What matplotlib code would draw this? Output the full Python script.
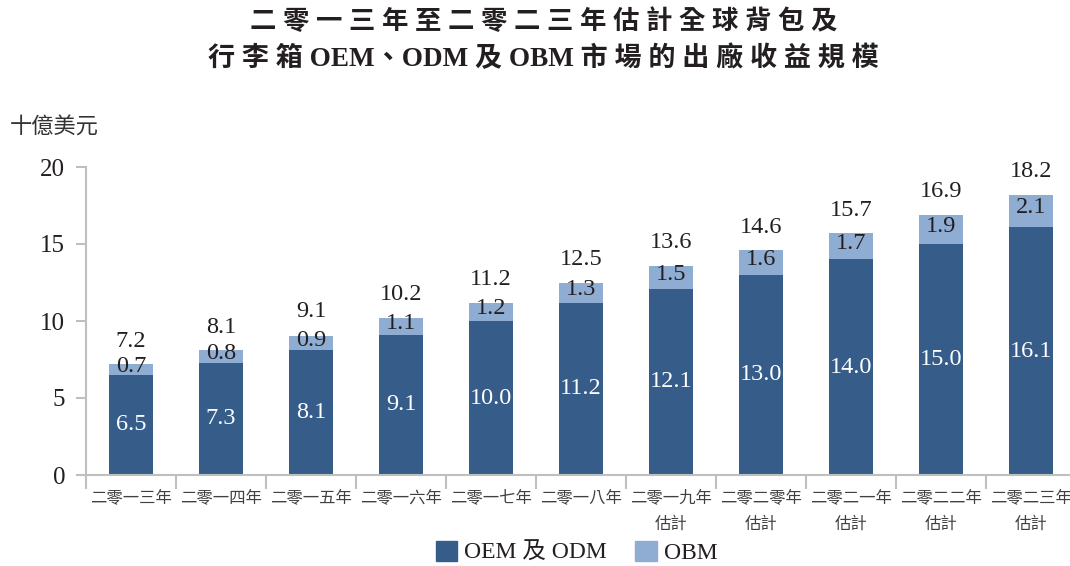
import matplotlib
matplotlib.use("Agg")
import matplotlib.pyplot as plt
from matplotlib.patches import Patch
import numpy as np

plt.rcParams['font.family'] = ['Liberation Serif', 'Noto Sans CJK TC']

years = ["二零一三年", "二零一四年", "二零一五年", "二零一六年", "二零一七年",
         "二零一八年", "二零一九年\n估計", "二零二零年\n估計", "二零二一年\n估計",
         "二零二二年\n估計", "二零二三年\n估計"]
oem_odm = [6.5, 7.3, 8.1, 9.1, 10.0, 11.2, 12.1, 13.0, 14.0, 15.0, 16.1]
obm = [0.7, 0.8, 0.9, 1.1, 1.2, 1.3, 1.5, 1.6, 1.7, 1.9, 2.1]
totals = [7.2, 8.1, 9.1, 10.2, 11.2, 12.5, 13.6, 14.6, 15.7, 16.9, 18.2]

DARK = "#365d8a"
LIGHT = "#8fadd2"
GREY = "#bfbfbf"
TXT = "#231f20"
LBL = 17.5

fig = plt.figure(figsize=(10.7, 5.66), dpi=100)
ax = fig.add_axes([86 / 1070, 91 / 566, 990 / 1070, 308 / 566])

x = np.arange(len(years))
ax.bar(x, oem_odm, width=0.49, color=DARK)
ax.bar(x, obm, width=0.49, bottom=oem_odm, color=LIGHT)

for i in x:
    ax.text(i, oem_odm[i] / 2, f"{oem_odm[i]:.1f}", ha="center", va="center",
            color="white", fontsize=LBL)
    ax.text(i, oem_odm[i] + obm[i] / 2 + 0.2, f"{obm[i]:.1f}", ha="center",
            va="center", color=TXT, fontsize=LBL)
    ax.text(i, totals[i] + 1.5, f"{totals[i]:.1f}", ha="center", va="center",
            color=TXT, fontsize=LBL)

ax.set_xlim(-0.5, 10.5)
ax.set_ylim(0, 20)
ax.set_yticks([0, 5, 10, 15, 20])
ax.set_xticks(x)
ax.set_xticklabels(years, fontsize=11.8, color="#404040", linespacing=1.9)
ax.set_xticks(np.arange(-0.5, 11, 1), minor=True)
ax.tick_params(axis="x", which="major", length=0, pad=11)
ax.tick_params(axis="x", which="minor", length=10, width=1.5, color=GREY)
ax.tick_params(axis="y", length=7, width=1.5, color=GREY, labelsize=18,
               labelcolor=TXT, pad=8)

for side in ["top", "right"]:
    ax.spines[side].set_visible(False)
for side in ["left", "bottom"]:
    ax.spines[side].set_color(GREY)
    ax.spines[side].set_linewidth(1.5)

fig.text(0.508, 1 - 21 / 566, "二 零 一 三 年 至 二 零 二 三 年 估 計 全 球 背 包 及",
         ha="center", va="center", fontsize=19, fontweight="bold", color=TXT)
fig.text(0.508, 1 - 59 / 566, "行 李 箱 OEM、ODM 及 OBM 市 場 的 出 廠 收 益 規 模",
         ha="center", va="center", fontsize=19.5, fontweight="bold", color=TXT)
fig.text(10 / 1070, 1 - 128 / 566, "十億美元", ha="left", va="center",
         fontsize=16, color="#333333")

handles = [Patch(color=DARK, label="OEM 及 ODM"), Patch(color=LIGHT, label="OBM")]
fig.legend(handles=handles, loc="center", bbox_to_anchor=(0.539, 0.024), ncol=2,
           frameon=False, fontsize=17, handlelength=0.9, handleheight=0.9,
           handletextpad=0.3, columnspacing=1.2, labelcolor=TXT)

fig.savefig("out.png", dpi=100)
